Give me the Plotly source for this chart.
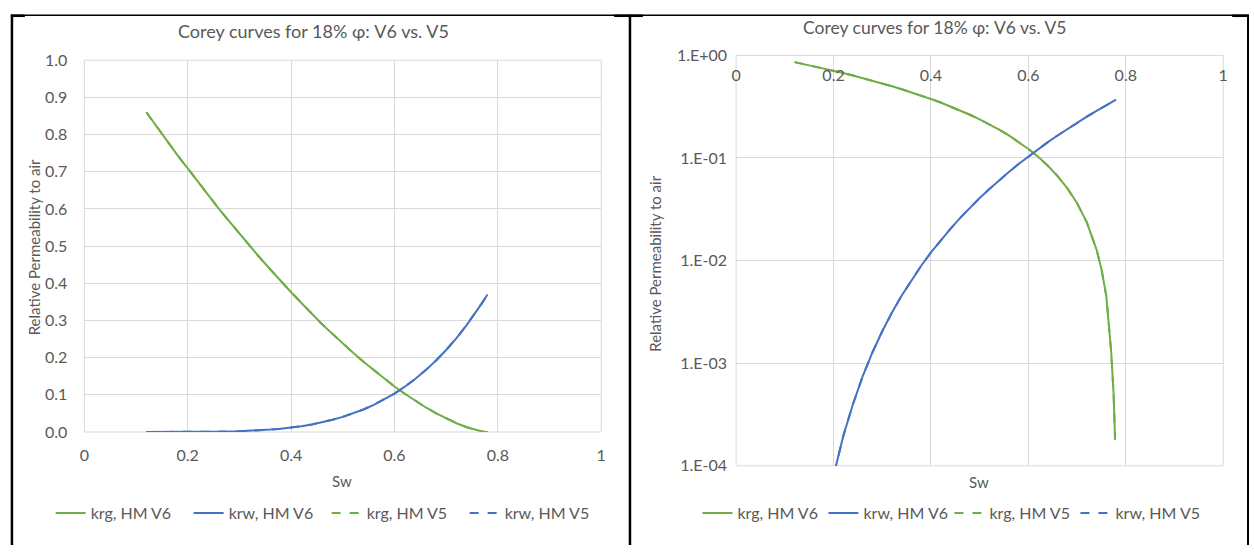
import plotly.graph_objects as go

# Water saturation sample points
sw = [0.12, 0.14, 0.16, 0.18, 0.20, 0.22, 0.24, 0.26, 0.28, 0.30, 0.32, 0.34,
      0.36, 0.38, 0.40, 0.42, 0.44, 0.46, 0.48, 0.50, 0.52, 0.54, 0.56, 0.58,
      0.60, 0.62, 0.64, 0.66, 0.68, 0.70, 0.72, 0.74, 0.75, 0.76, 0.77, 0.775,
      0.778, 0.78]

# Gas relative permeability, history match V6
krg_v6 = [0.86, 0.821, 0.783, 0.745, 0.709, 0.672, 0.637, 0.601, 0.567, 0.533,
          0.500, 0.468, 0.437, 0.406, 0.376, 0.347, 0.318, 0.290, 0.264, 0.238,
          0.213, 0.189, 0.166, 0.144, 0.1225, 0.103, 0.084, 0.0667, 0.0507,
          0.0363, 0.0236, 0.0128, 0.0083, 0.0045, 0.0013, 0.0005, 0.00018, 0.0]

# Water relative permeability, history match V6
krw_v6 = [0.0, 3.1e-7, 5.0e-6, 2.5e-5, 8.0e-5, 1.95e-4, 4.0e-4, 7.5e-4, 0.00128,
          0.00205, 0.00312, 0.00457, 0.00647, 0.00891, 0.0120, 0.0158, 0.0204,
          0.0261, 0.0328, 0.0407, 0.0499, 0.0607, 0.0731, 0.0873, 0.1035, 0.1219,
          0.1426, 0.1658, 0.1918, 0.2207, 0.2527, 0.2881, 0.3072, 0.3272, 0.3481,
          0.3589, 0.3655, 0.37]

# V5 curves coincide with V6
krg_v5 = list(krg_v6)
krw_v5 = list(krw_v6)

series_names = ["krg, HM V6", "krw, HM V6", "krg, HM V5", "krw, HM V5"]

lin_ticks = [0, 0.2, 0.4, 0.6, 0.8, 1]
lin_tick_text = ["0", "0.2", "0.4", "0.6", "0.8", "1"]
log_ticks = [1e-4, 1e-3, 1e-2, 1e-1, 1]
log_tick_text = ["1.E-04", "1.E-03", "1.E-02", "1.E-01", "1.E+00"]

title_text = "Corey curves for 18% φ: V6 vs. V5"
y_title = "Relative Permeability to air"

GREEN = "#70AD47"
BLUE = "#4472C4"
GRID = "#D9D9D9"
TXT = "#595959"
FONT = "Lato"

W, H = 1254, 554


def px(x):
    return x / W


def py(y):
    return 1 - y / H


def positive(vals):
    # zero values cannot sit on a log axis
    return [v if v > 0 else None for v in vals]


fig = go.Figure()

styles = [(GREEN, "solid"), (BLUE, "solid"), (GREEN, "dash"), (BLUE, "dash")]
ydata = [krg_v6, krw_v6, krg_v5, krw_v5]
# V5 drawn first so V6 sits on top
order = [2, 3, 0, 1]

panels = [("x", "y", "legend", False), ("x2", "y2", "legend2", True)]
for xa, ya, leg, is_log in panels:
    for i in order:
        col, dash = styles[i]
        yv = positive(ydata[i]) if is_log else ydata[i]
        fig.add_trace(go.Scatter(
            x=sw, y=yv, mode="lines", name=series_names[i],
            line=dict(color=col, width=2, dash=dash),
            xaxis=xa, yaxis=ya, legend=leg, legendrank=i + 1,
            connectgaps=False,
        ))

TICKFONT = dict(family=FONT, size=16, color=TXT)
axis_common = dict(showgrid=True, gridcolor=GRID, gridwidth=1, zeroline=False,
                   showline=False, ticks="", tickfont=TICKFONT)

legend_common = dict(orientation="h", xanchor="left", yanchor="middle",
                     font=dict(family=FONT, size=16, color=TXT),
                     itemwidth=30, traceorder="normal",
                     bgcolor="rgba(0,0,0,0)")

fig.update_layout(
    width=W, height=H,
    margin=dict(l=0, r=0, t=0, b=0),
    paper_bgcolor="white", plot_bgcolor="white",
    font=dict(family=FONT, color=TXT),
    xaxis=dict(domain=[px(80), px(601)], range=[0, 1], tickvals=lin_ticks,
               ticktext=lin_tick_text, anchor="y", ticklabelstandoff=12,
               **axis_common),
    yaxis=dict(domain=[py(437), py(52)], range=[0, 1.0], dtick=0.1,
               tickformat=".1f", anchor="x", ticklabelstandoff=16,
               **axis_common),
    xaxis2=dict(domain=[px(737), px(1228)], range=[0, 1], tickvals=lin_ticks,
                ticktext=lin_tick_text, anchor="free", position=py(47),
                side="bottom", ticklabelstandoff=9, **axis_common),
    yaxis2=dict(domain=[py(472), py(47)], type="log", range=[-4, 0],
                tickvals=log_ticks, ticktext=log_tick_text, anchor="x2",
                ticklabelstandoff=8, **axis_common),
    legend=dict(x=px(46), y=py(521), entrywidth=93, entrywidthmode="pixels",
                **legend_common),
    legend2=dict(x=px(698), y=py(521), entrywidth=81, entrywidthmode="pixels",
                 **legend_common),
)

annotations = [
    dict(x=px(311), y=py(22), text=title_text, font=dict(size=18)),
    dict(x=px(937), y=py(18), text=title_text, font=dict(size=17.5)),
    dict(x=px(340), y=py(488), text="Sw", font=dict(size=15)),
    dict(x=px(982), y=py(489), text="Sw", font=dict(size=15)),
    dict(x=px(29), y=py(246), text=y_title, textangle=-90, font=dict(size=15)),
    dict(x=px(655), y=py(263), text=y_title, textangle=-90, font=dict(size=15)),
]
for a in annotations:
    a.update(xref="paper", yref="paper", showarrow=False,
             xanchor="center", yanchor="middle")
    a["font"].update(family=FONT, color=TXT)
fig.update_layout(annotations=annotations)

# light border around each plot area
for xr, yr in [("x domain", "y domain"), ("x2 domain", "y2 domain")]:
    fig.add_shape(type="rect", xref=xr, yref=yr, x0=0, x1=1, y0=0, y1=1,
                  line=dict(color=GRID, width=1), layer="below")

# frame lines around the two panels
frame = [
    (px(6), py(5.5), px(1253.5), py(5.5), 1.5),
    (px(7), py(5), px(7), py(554), 2.5),
    (px(630), py(5), px(630), py(554), 2.5),
    (px(1253), py(5), px(1253), py(554), 2),
    (px(6), py(6), px(20), py(6), 2.5),
    (px(614), py(6), px(643), py(6), 2.5),
    (px(1237), py(6), px(1254), py(6), 2.5),
]
for x0, y0, x1, y1, w in frame:
    fig.add_shape(type="line", xref="paper", yref="paper", x0=x0, y0=y0,
                  x1=x1, y1=y1, line=dict(color="black", width=w))

fig.write_html("out.html")
